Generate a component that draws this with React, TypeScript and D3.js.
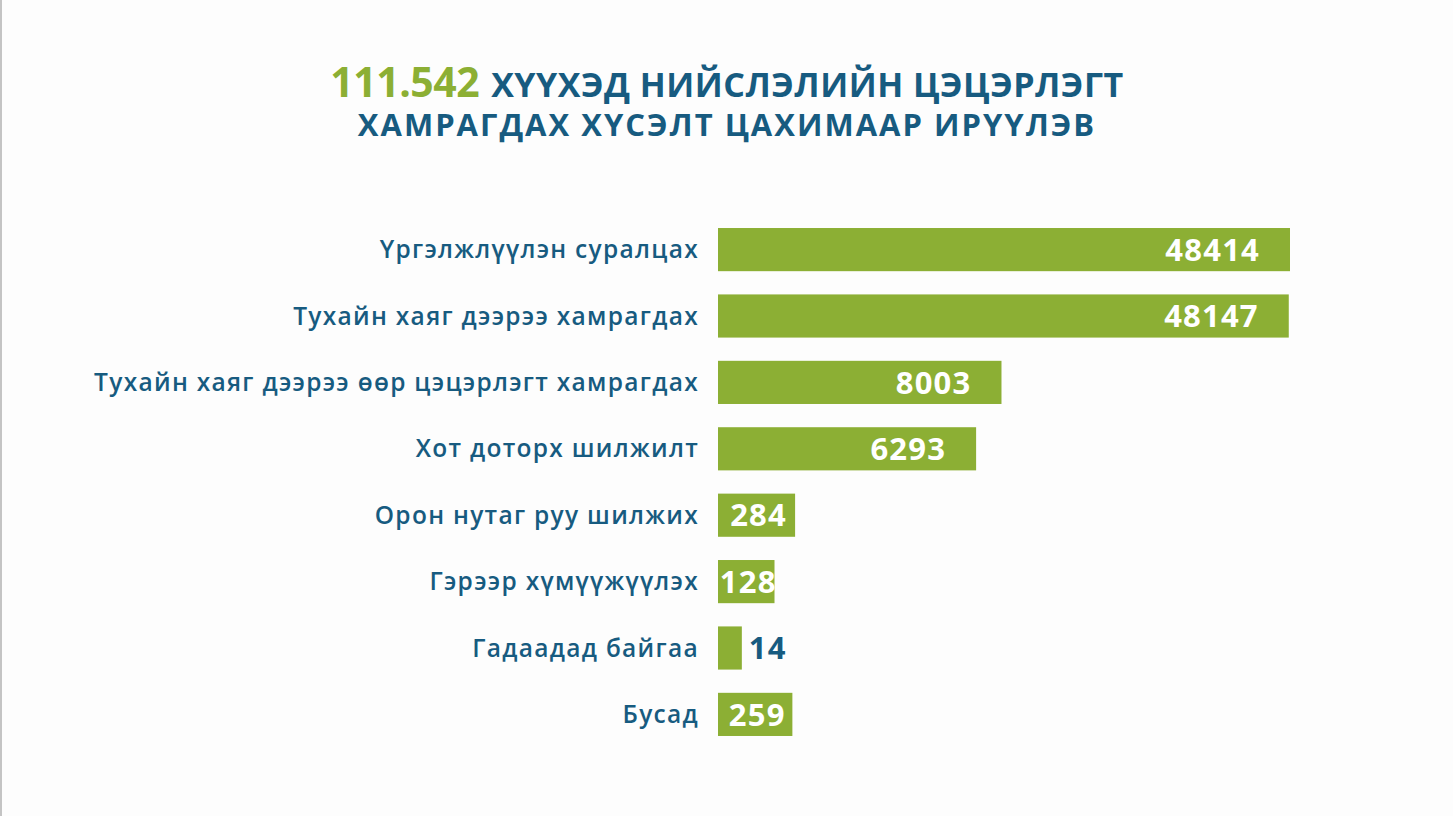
import React from "react";
import * as d3 from "d3";

// ангилал ба утгууд
const categories = [
  "Үргэлжлүүлэн суралцах",
  "Тухайн хаяг дээрээ хамрагдах",
  "Тухайн хаяг дээрээ өөр цэцэрлэгт хамрагдах",
  "Хот доторх шилжилт",
  "Орон нутаг руу шилжих",
  "Гэрээр хүмүүжүүлэх",
  "Гадаадад байгаа",
  "Бусад",
];
const values = [48414, 48147, 8003, 6293, 284, 128, 14, 259];
const titleNumber = "111.542";
const titleLine1 = "ХҮҮХЭД НИЙСЛЭЛИЙН ЦЭЦЭРЛЭГТ";
const titleLine2 = "ХАМРАГДАХ ХҮСЭЛТ ЦАХИМААР ИРҮҮЛЭВ";

const W = 1453;
const H = 816;
const GREEN = "#8caf34";
const BLUE = "#175b80";
const FONT = "'Open Sans', 'Noto Sans', sans-serif";

const App = () => {
  const x0 = 718;
  // зураг дээрх баганын урт шугаман биш тул зэрэгт масштаб
  const x = d3.scalePow().exponent(0.39).domain([0, d3.max(values)!]).range([0, 572]);
  const y = d3
    .scaleBand()
    .domain(categories)
    .range([216.4, 747.6])
    .paddingInner(0.35)
    .paddingOuter(0.175);

  return (
    <svg width={W} height={H} style={{ display: "block", position: "absolute", left: 0, top: 0 }}>
      <rect width={W} height={H} fill="#fdfdfd" />
      <rect x={0} y={0} width={2} height={H} fill="#c4c4c4" />

      <text x={727} y={97} textAnchor="middle" fontFamily={FONT} fontWeight={700} fill={BLUE} fontSize={34}>
        <tspan fill={GREEN} fontSize={41} letterSpacing={-0.5}>{titleNumber}</tspan>
        <tspan dx={12} letterSpacing={0.5}>{titleLine1}</tspan>
      </text>
      <text
        x={727}
        y={136}
        textAnchor="middle"
        fontFamily={FONT}
        fontWeight={700}
        fill={BLUE}
        fontSize={31}
        letterSpacing={2}
      >
        {titleLine2}
      </text>

      {categories.map((c, i) => {
        const v = values[i];
        const w = x(v);
        const by = y(c)!;
        const bh = y.bandwidth();
        const cy = by + bh / 2;
        let lx = x0 + w - 30;
        let anchor = "end";
        let fill = "#ffffff";
        if (w < 40) {
          lx = x0 + w + 7;
          anchor = "start";
          fill = BLUE;
        } else if (w < 120) {
          lx = x0 + w / 2 + 2;
          anchor = "middle";
        }
        return (
          <g key={c}>
            <text
              x={699}
              y={cy}
              dy="0.35em"
              textAnchor="end"
              fontFamily={FONT}
              fontWeight={600}
              fontSize={24.5}
              letterSpacing={1.3}
              fill={BLUE}
            >
              {c}
            </text>
            <rect x={x0} y={by} width={w} height={bh} fill={GREEN} />
            <text
              x={lx}
              y={cy}
              dy="0.36em"
              textAnchor={anchor}
              fontFamily={FONT}
              fontWeight={700}
              fontSize={31}
              letterSpacing={1.2}
              fill={fill}
            >
              {v}
            </text>
          </g>
        );
      })}
    </svg>
  );
};

export default App;
